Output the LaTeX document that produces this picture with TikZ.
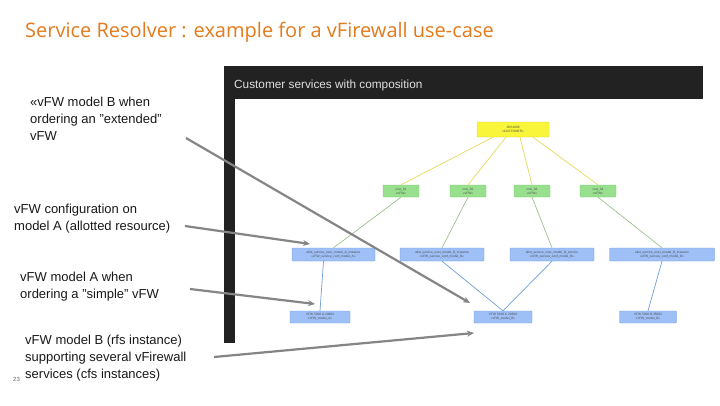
\documentclass[tikz,border=0pt]{standalone}
\usepackage{fontspec}
\setmainfont{Liberation Sans}
\newfontfamily\titlefont{Open Sans}
\usetikzlibrary{arrows.meta}
\definecolor{titleorange}{HTML}{E37B1C}
\definecolor{darkbar}{HTML}{222222}
\definecolor{ylfill}{HTML}{F8F53A}
\definecolor{yldraw}{HTML}{D8D020}
\definecolor{yledge}{HTML}{E9D95A}
\definecolor{grfill}{HTML}{98E08E}
\definecolor{grdraw}{HTML}{78C870}
\definecolor{gredge}{HTML}{9CC48C}
\definecolor{blfill}{HTML}{9EC0F6}
\definecolor{bldraw}{HTML}{6F9BE0}
\definecolor{bledge}{HTML}{6E9ED8}
\definecolor{callout}{HTML}{858585}
\tikzset{
  lbl/.style={anchor=north west, align=left, inner sep=0pt, font=\fontsize{13}{17}\selectfont, text=black!90},
  tiny/.style={font=\fontsize{3.2}{3.8}\selectfont, align=center, inner sep=0.6pt, rounded corners=0.8pt, text=black!70},
  ylbox/.style={tiny, fill=ylfill, draw=yldraw, line width=0.4pt, minimum width=72pt, minimum height=15pt},
  grbox/.style={tiny, fill=grfill, draw=grdraw, line width=0.4pt, minimum width=36pt, minimum height=12pt},
  blbox/.style={tiny, fill=blfill, draw=bldraw, line width=0.4pt, minimum height=13pt},
  yl/.style={draw=yledge, line width=0.7pt},
  gr/.style={draw=gredge, line width=0.7pt},
  bl/.style={draw=bledge, line width=0.7pt},
  arr/.style={draw=callout, line width=2.2pt, -{Stealth[length=7pt,width=6pt]}}
}
\begin{document}
\begin{tikzpicture}[x=1pt,y=-1pt]
\useasboundingbox[fill=white] (0,0) rectangle (720,405);
% title
\node[anchor=west, inner sep=0pt, text=titleorange, font=\titlefont\fontsize{20}{22}\selectfont] (title) at (25,32) {Service Resolver : example for a vFirewall use-case};
% screenshot frame
\fill[darkbar] (224,66) rectangle (703,99);
\fill[darkbar] (224,99) rectangle (235,343);
\node[anchor=west, inner sep=0pt, text=white!88!black, font=\fontsize{11.8}{13}\selectfont] (shot) at (234,85) {Customer services with composition};
% tree nodes
\node[ylbox] (root) at (513,129.5) {JOS1606\\<<CUSTOMER>>};
\node[grbox] (g1) at (401,191) {vcst\_01\\<<vFW>>};
\node[grbox] (g2) at (468,191) {vcst\_02\\<<vFW>>};
\node[grbox] (g3) at (532,191) {vcst\_03\\<<vFW>>};
\node[grbox] (g4) at (598,191) {vcst\_04\\<<vFW>>};
\node[blbox, minimum width=83pt] (b1) at (333.5,254.5) {allot\_service\_over\_model\_A\_instance\\<<vFW\_service\_conf\_model\_A>>};
\node[blbox, minimum width=84pt] (b2) at (442,254.5) {allot\_service\_over\_model\_B\_instance\\<<vFW\_service\_conf\_model\_B>>};
\node[blbox, minimum width=84pt] (b3) at (552,254.5) {allot\_service\_over\_model\_B\_service\\<<vFW\_service\_conf\_model\_B>>};
\node[blbox, minimum width=105pt] (b4) at (662,254.5) {allot\_service\_over\_model\_B\_instance\\<<vFW\_service\_conf\_model\_B>>};
\node[blbox, minimum width=60pt, minimum height=12pt] (vA) at (320,317) {VFW 5308 A 10864\\<<vFW\_model\_A>>};
\node[blbox, minimum width=58pt, minimum height=12pt] (vC) at (503,317) {VFW 5308 C 20308\\<<vFW\_model\_B>>};
\node[blbox, minimum width=57pt, minimum height=12pt] (vB) at (648,317) {VFW 5308 B 35002\\<<vFW\_model\_B>>};
% tree edges
\foreach \g/\dx in {g1/-20,g2/-7,g3/7,g4/20} \draw[yl] ([xshift=\dx]root.south) -- (\g.north);
\draw[gr] (g1.south) -- (b1.north);
\draw[gr] (g2.south) -- (b2.north);
\draw[gr] (g3.south) -- (b3.north);
\draw[gr] (g4.south) -- (b4.north);
\draw[bl] ([xshift=-10]b1.south) -- (vA.north);
\draw[bl] (b2.south) -- (vC.north);
\draw[bl] (b3.south) -- (vC.north);
\draw[bl] (b4.south) -- (vB.north);
% labels
\node[lbl] (l1) at (30,97) {«vFW model B when\\ordering an "extended"\\vFW};
\node[lbl] (l2) at (14,204) {vFW configuration on\\model A (allotted resource)};
\node[lbl] (l3) at (20,272) {vFW model A when\\ordering a "simple" vFW};
\node[lbl] (l4) at (25,335) {vFW model B (rfs instance)\\supporting several vFirewall\\services (cfs instances)};
\node[anchor=west, inner sep=0pt, font=\fontsize{6}{6}\selectfont, text=black!60] (pg) at (13,379) {23};
% callout arrows
\coordinate (s1) at (186,138);
\coordinate (e1) at (470,303);
\coordinate (s2) at (185,226);
\coordinate (e2) at (310,244);
\coordinate (s3) at (190,289);
\coordinate (e3) at (315,304);
\coordinate (s4) at (214,357);
\coordinate (e4) at (474,333);
\draw[arr] (s1) -- (e1);
\draw[arr] (s2) -- (e2);
\draw[arr] (s3) -- (e3);
\draw[arr] (s4) -- (e4);
\end{tikzpicture}
\end{document}
